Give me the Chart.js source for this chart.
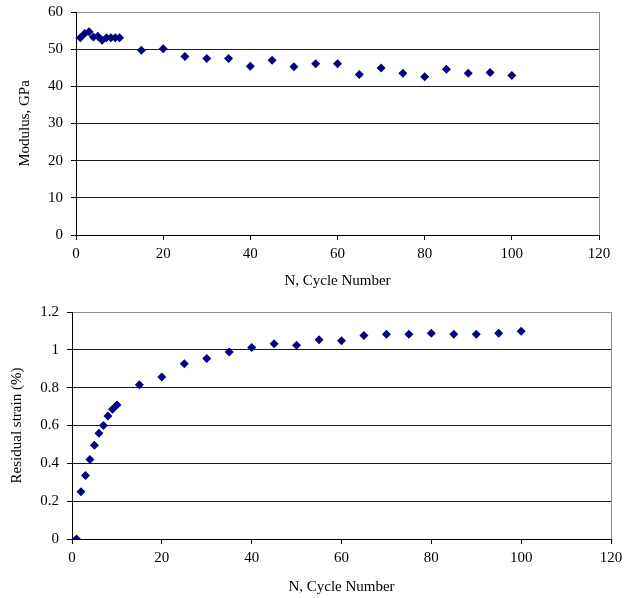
<!DOCTYPE html>
<html>
<head>
<meta charset="utf-8">
<script src="https://cdn.jsdelivr.net/npm/chart.js@4/dist/chart.umd.min.js"></script>
<style>
    html, body { margin: 0; padding: 0; background: #fff; }
    .wrap { position: absolute; left: 0; width: 628px; }
    #top { top: 0; height: 295px; }
    #bottom { top: 300px; height: 298px; }
</style>
</head>
<body>
<div class="wrap" id="top"><canvas id="modulusChart" width="628" height="295"></canvas></div>
<div class="wrap" id="bottom"><canvas id="strainChart" width="628" height="298"></canvas></div>
<script>
// ============================
// Data
// ============================

const cycles = [1, 2, 3, 4, 5, 6, 7, 8, 9, 10,
    15, 20, 25, 30, 35, 40, 45, 50, 55, 60, 65, 70, 75, 80, 85, 90, 95, 100];

const modulus = [53.1, 54.2, 54.7, 53.3, 53.5, 52.4, 53.1, 53.1, 53.1, 53.1,
    49.7, 50.1, 48.0, 47.5, 47.5, 45.4, 47.0, 45.3, 46.1, 46.1, 43.2, 44.9, 43.5, 42.6, 44.6, 43.5, 43.7, 42.9];

const residualStrain = [0, 0.25, 0.336, 0.42, 0.495, 0.559, 0.60, 0.65, 0.686, 0.709,
    0.816, 0.857, 0.926, 0.954, 0.989, 1.012, 1.032, 1.024, 1.053, 1.048, 1.076, 1.082, 1.082, 1.088, 1.082, 1.082, 1.088, 1.098];

const xTitle = 'N, Cycle Number';
const modulusTitle = 'Modulus, GPa';
const strainTitle = 'Residual strain (%)';

// ============================
// Chart helpers
// ============================

const FONT = { family: '"Liberation Serif", "Times New Roman", serif', size: 15 };
const MARKER = '#000080';

function makeChart(canvas, values, opts) {
    return new Chart(canvas.getContext('2d'), {
        type: 'scatter',
        data: {
            datasets: [{
                data: cycles.map((n, i) => ({ x: n, y: values[i] })),
                pointStyle: 'rectRot',
                pointRadius: 4.5,
                pointBackgroundColor: MARKER,
                pointBorderColor: MARKER,
                pointBorderWidth: 0,
                showLine: false
            }]
        },
        options: {
            responsive: false,
            animation: false,
            layout: {
                padding: { top: opts.top, right: opts.right, left: 0, bottom: 0 }
            },
            scales: {
                x: {
                    type: 'linear',
                    min: 0,
                    max: 120,
                    afterFit: s => { s.height = opts.xHeight; },
                    border: { color: '#000', width: 1 },
                    grid: {
                        color: c => c.tick && c.tick.value === 120 ? '#8c8c8c' : 'rgba(0,0,0,0)',
                        tickColor: '#000',
                        tickLength: 5
                    },
                    ticks: {
                        stepSize: 20,
                        color: '#000',
                        font: FONT,
                        padding: 5,
                        maxRotation: 0
                    },
                    title: {
                        display: true,
                        text: xTitle,
                        color: '#000',
                        font: FONT,
                        padding: { top: 0, bottom: opts.xTitlePad }
                    }
                },
                y: {
                    min: 0,
                    max: opts.yMax,
                    afterFit: s => {
                        s.width = opts.yWidth;
                        // let the layout padding set the top edge, not the label overhang
                        s.paddingTop = 0;
                        s.paddingBottom = 0;
                    },
                    border: { color: '#000', width: 1 },
                    grid: {
                        color: c => c.tick && c.tick.value === opts.yMax ? '#8c8c8c' : '#1a1a1a',
                        tickColor: '#000',
                        tickLength: 5
                    },
                    ticks: {
                        stepSize: opts.yStep,
                        color: '#000',
                        font: FONT,
                        padding: 8,
                        callback: v => String(+v.toFixed(1))
                    },
                    title: {
                        display: true,
                        text: opts.yTitle,
                        color: '#000',
                        font: FONT,
                        padding: { top: opts.yTitlePad, bottom: 0 }
                    }
                }
            },
            plugins: {
                legend: { display: false },
                tooltip: { enabled: false }
            }
        }
    });
}

makeChart(document.getElementById('modulusChart'), modulus, {
    top: 12, right: 29, xHeight: 60, yWidth: 76,
    yMax: 60, yStep: 10, yTitle: modulusTitle,
    xTitlePad: 5, yTitlePad: 16
});

makeChart(document.getElementById('strainChart'), residualStrain, {
    top: 12, right: 17, xHeight: 59, yWidth: 72,
    yMax: 1.2, yStep: 0.2, yTitle: strainTitle,
    xTitlePad: 2, yTitlePad: 8
});
</script>
</body>
</html>
